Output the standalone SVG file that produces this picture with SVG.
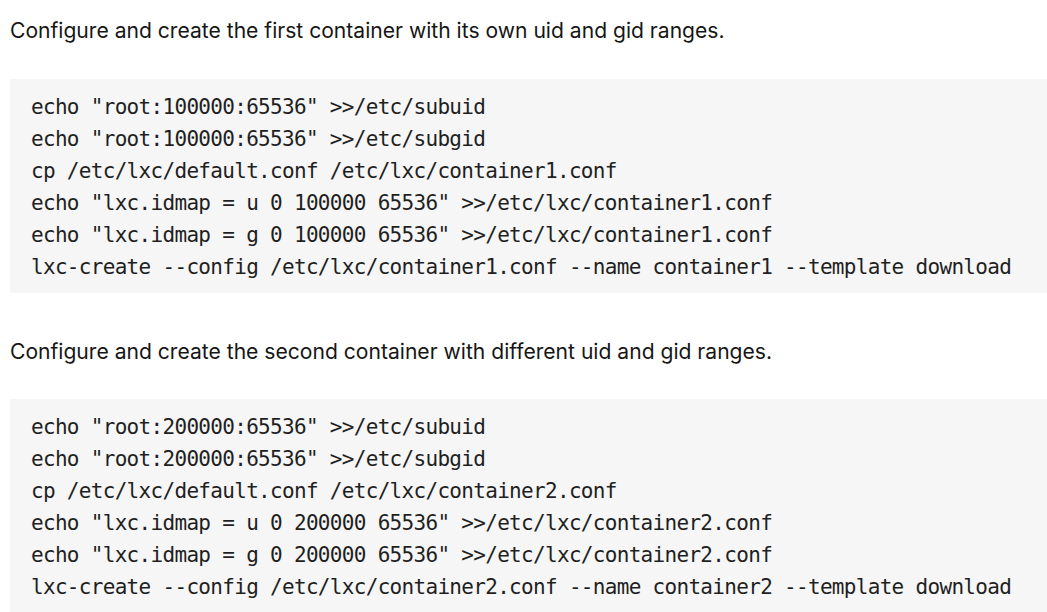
<svg xmlns="http://www.w3.org/2000/svg" width="1047" height="612" viewBox="0 0 1047 612">
<style>
.h{font-family:Inter,"Noto Sans",sans-serif;font-size:21.1px;fill:#161616}
.c{font-family:"DejaVu Sans Mono","Liberation Mono",monospace;font-size:21px;letter-spacing:-0.69px;fill:#1f1f1f}
.bg{fill:#f6f6f6}
</style>
<rect width="1047" height="612" fill="#ffffff"/>
<text class="h" x="10" y="37.5">Configure and create the first container with its own uid and gid ranges.</text>
<g id="block1">
<rect class="bg" x="10" y="79" width="1037" height="214"/>
<text class="c" x="31" y="114">echo "root:100000:65536" &gt;&gt;/etc/subuid</text>
<text class="c" x="31" y="146">echo "root:100000:65536" &gt;&gt;/etc/subgid</text>
<text class="c" x="31" y="178">cp /etc/lxc/default.conf /etc/lxc/container1.conf</text>
<text class="c" x="31" y="210">echo "lxc.idmap = u 0 100000 65536" &gt;&gt;/etc/lxc/container1.conf</text>
<text class="c" x="31" y="242">echo "lxc.idmap = g 0 100000 65536" &gt;&gt;/etc/lxc/container1.conf</text>
<text class="c" x="31" y="274">lxc-create --config /etc/lxc/container1.conf --name container1 --template download</text>
</g>
<text class="h" x="10" y="358.5">Configure and create the second container with different uid and gid ranges.</text>
<g id="block2">
<rect class="bg" x="10" y="399" width="1037" height="213"/>
<text class="c" x="31" y="434">echo "root:200000:65536" &gt;&gt;/etc/subuid</text>
<text class="c" x="31" y="466">echo "root:200000:65536" &gt;&gt;/etc/subgid</text>
<text class="c" x="31" y="498">cp /etc/lxc/default.conf /etc/lxc/container2.conf</text>
<text class="c" x="31" y="530">echo "lxc.idmap = u 0 200000 65536" &gt;&gt;/etc/lxc/container2.conf</text>
<text class="c" x="31" y="562">echo "lxc.idmap = g 0 200000 65536" &gt;&gt;/etc/lxc/container2.conf</text>
<text class="c" x="31" y="594">lxc-create --config /etc/lxc/container2.conf --name container2 --template download</text>
</g>
</svg>
